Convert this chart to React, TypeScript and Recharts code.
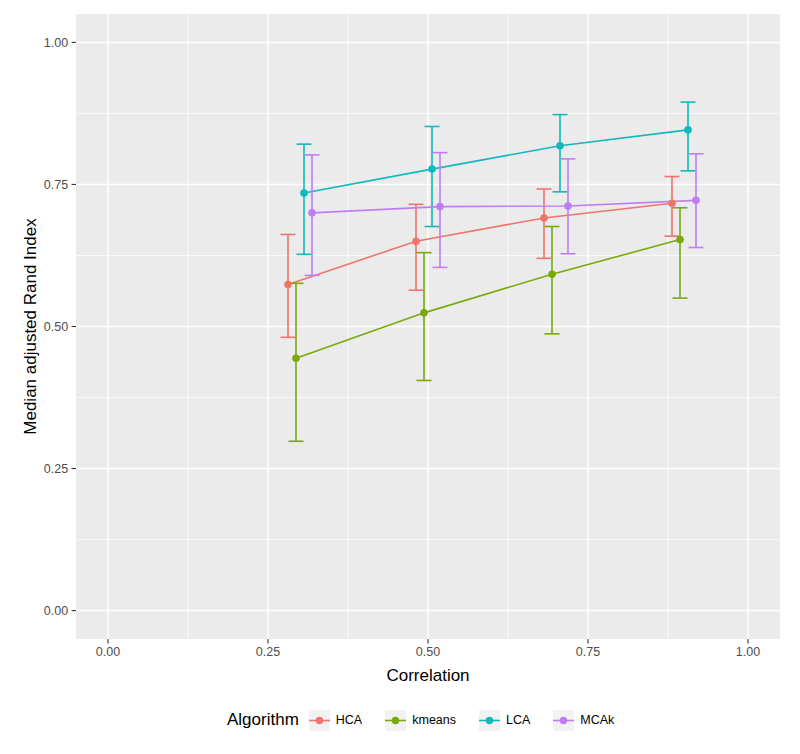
import React from 'react';
import { ComposedChart, Line, XAxis, YAxis, CartesianGrid, ErrorBar } from 'recharts';

// ---- data ----
const correlations = [0.3, 0.5, 0.7, 0.9];
const algorithms = ['HCA', 'kmeans', 'LCA', 'MCAk'];

const hcaMedian = [0.574, 0.650, 0.691, 0.717];
const hcaLow = [0.481, 0.564, 0.620, 0.659];
const hcaHigh = [0.662, 0.715, 0.742, 0.764];

const kmeansMedian = [0.444, 0.524, 0.592, 0.653];
const kmeansLow = [0.298, 0.405, 0.487, 0.550];
const kmeansHigh = [0.576, 0.630, 0.676, 0.709];

const lcaMedian = [0.735, 0.777, 0.818, 0.846];
const lcaLow = [0.627, 0.676, 0.737, 0.774];
const lcaHigh = [0.821, 0.852, 0.873, 0.895];

const mcakMedian = [0.700, 0.711, 0.712, 0.722];
const mcakLow = [0.590, 0.604, 0.628, 0.639];
const mcakHigh = [0.802, 0.806, 0.795, 0.804];

const axisTicks = [0, 0.25, 0.5, 0.75, 1];
const minorTicks = [0.125, 0.375, 0.625, 0.875];

// ---- styling ----
const colors = ['#F0746B', '#79AA0A', '#10B9BD', '#C07CF5'];
const FONT = "'Liberation Sans', Arial, Helvetica, sans-serif";
const DODGE_WIDTH = 0.05;

const seriesValues = [
  [hcaMedian, hcaLow, hcaHigh],
  [kmeansMedian, kmeansLow, kmeansHigh],
  [lcaMedian, lcaLow, lcaHigh],
  [mcakMedian, mcakLow, mcakHigh],
];

const n = algorithms.length;
const seriesData = seriesValues.map(([med, lo, hi], gi) => {
  const offset = -DODGE_WIDTH / 2 + (DODGE_WIDTH / n) * (gi + 0.5);
  return correlations.map((c, i) => ({
    x: c + offset,
    y: med[i],
    err: [med[i] - lo[i], hi[i] - med[i]],
  }));
});

const fmt = (v: number) => v.toFixed(2);

const YTitle = (props: any) => {
  const vb = props.viewBox || { x: 0, y: 14, width: 76, height: 625 };
  const cx = vb.x + 30;
  const cy = vb.y + vb.height / 2;
  return (
    <text
      transform={`translate(${cx}, ${cy}) rotate(-90)`}
      textAnchor="middle"
      dominantBaseline="central"
      fontSize={17}
      fontFamily={FONT}
      fill="#000"
    >
      Median adjusted Rand Index
    </text>
  );
};

const XTitle = (props: any) => {
  const vb = props.viewBox || { x: 76, y: 639, width: 704, height: 115 };
  return (
    <text
      x={vb.x + vb.width / 2}
      y={vb.y + 36}
      textAnchor="middle"
      dominantBaseline="central"
      fontSize={17}
      fontFamily={FONT}
      fill="#000"
    >
      Correlation
    </text>
  );
};

const LegendKey = ({ color }: { color: string }) => (
  <svg width={21} height={21} style={{ display: 'block' }}>
    <rect x={0} y={0} width={21} height={21} fill="#F2F2F2" />
    <line x1={0} y1={10.5} x2={21} y2={10.5} stroke={color} strokeWidth={1.6} />
    <circle cx={10.5} cy={10.5} r={3.7} fill={color} />
  </svg>
);

export default function App() {
  return (
    <div
      style={{
        position: 'absolute',
        left: 0,
        top: 0,
        width: 800,
        height: 754,
        background: '#fff',
        fontFamily: FONT,
      }}
    >
      <ComposedChart width={800} height={754} margin={{ top: 14, right: 20, bottom: 0, left: 0 }}>
        <CartesianGrid
          fill="#EBEBEB"
          stroke="#FFFFFF"
          strokeWidth={0.7}
          horizontalValues={minorTicks}
          verticalValues={minorTicks}
        />
        <CartesianGrid
          stroke="#FFFFFF"
          strokeWidth={1.5}
          horizontalValues={axisTicks}
          verticalValues={axisTicks}
        />
        <XAxis
          type="number"
          dataKey="x"
          domain={[-0.05, 1.05]}
          ticks={axisTicks}
          tickFormatter={fmt}
          allowDataOverflow
          height={115}
          axisLine={false}
          tickSize={4.4}
          tickMargin={3.5}
          tickLine={{ stroke: '#333333', strokeWidth: 1.1 }}
          tick={{ fill: '#4D4D4D', fontSize: 12.5, fontFamily: FONT }}
          label={<XTitle />}
        />
        <YAxis
          type="number"
          domain={[-0.05, 1.05]}
          ticks={axisTicks}
          tickFormatter={fmt}
          allowDataOverflow
          width={76}
          axisLine={false}
          tickSize={4.4}
          tickMargin={3.5}
          tickLine={{ stroke: '#333333', strokeWidth: 1.1 }}
          tick={{ fill: '#4D4D4D', fontSize: 12.5, fontFamily: FONT }}
          label={<YTitle />}
        />
        {seriesData.map((rows, gi) => (
          <Line
            key={algorithms[gi]}
            name={algorithms[gi]}
            data={rows}
            dataKey="y"
            type="linear"
            stroke={colors[gi]}
            strokeWidth={1.6}
            dot={{ r: 3.8, fill: colors[gi], stroke: colors[gi], strokeWidth: 0 }}
            activeDot={false}
            isAnimationActive={false}
          >
            <ErrorBar dataKey="err" direction="y" width={7.5} stroke={colors[gi]} strokeWidth={1.6} />
          </Line>
        ))}
      </ComposedChart>
      <div
        style={{
          position: 'absolute',
          left: 227,
          top: 709,
          height: 22,
          display: 'flex',
          alignItems: 'center',
          whiteSpace: 'nowrap',
        }}
      >
        <span style={{ fontSize: 17, color: '#000', marginRight: 10 }}>Algorithm</span>
        {algorithms.map((a, i) => (
          <div key={a} style={{ display: 'flex', alignItems: 'center', marginRight: 23 }}>
            <LegendKey color={colors[i]} />
            <span style={{ fontSize: 12.5, color: '#000', marginLeft: 6 }}>{a}</span>
          </div>
        ))}
      </div>
    </div>
  );
}
